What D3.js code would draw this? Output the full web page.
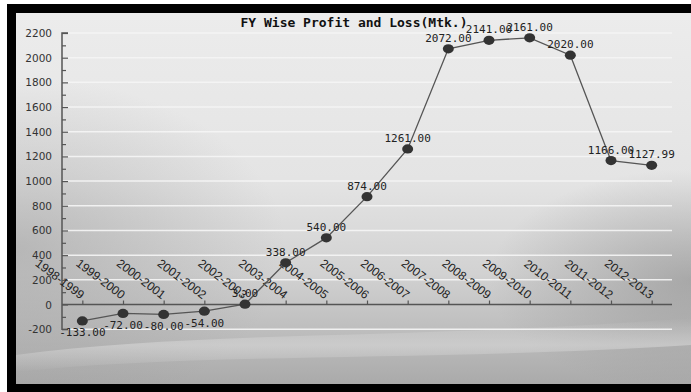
<!DOCTYPE html>
<html>
<head>
<meta charset="utf-8">
<script src="https://cdn.jsdelivr.net/npm/d3@7"></script>
<style>
  html, body { margin: 0; padding: 0; background: #fff; }
  svg { display: block; }
</style>
</head>
<body>
<svg id="chart" width="691" height="392"></svg>
<script>
const title = "FY Wise Profit and Loss(Mtk.)";
const categories = ["1998-1999","1999-2000","2000-2001","2001-2002","2002-2003","2003-2004","2004-2005","2005-2006","2006-2007","2007-2008","2008-2009","2009-2010","2010-2011","2011-2012","2012-2013"];
const values = [-133, -72, -80, -54, 3, 338, 540, 874, 1261, 2072, 2141, 2161, 2020, 1166, 1127.99];
const yTicks = [-200, 0, 200, 400, 600, 800, 1000, 1200, 1400, 1600, 1800, 2000, 2200];
const yMinorTicks = [-100, 100, 300, 500, 700, 900, 1100, 1300, 1500, 1700, 1900, 2100];

const svg = d3.select("#chart");
const W = 691, H = 392;

// ----- background & frame -----
const defs = svg.append("defs");
const vg = defs.append("linearGradient").attr("id","bgV").attr("x1",0).attr("y1",0).attr("x2",0).attr("y2",1);
[[0,"#ececec"],[0.45,"#e4e4e4"],[0.7,"#d2d2d2"],[0.82,"#c2c2c2"],[0.9,"#b8b8b8"],[1,"#aaaaaa"]].forEach(s=>vg.append("stop").attr("offset",s[0]).attr("stop-color",s[1]));
const lg = defs.append("radialGradient").attr("id","bgL").attr("cx",0.0).attr("cy",0.55).attr("r",0.4).attr("gradientTransform","scale(1,1.15)");
lg.append("stop").attr("offset",0).attr("stop-color","#909090").attr("stop-opacity",0.45);
lg.append("stop").attr("offset",1).attr("stop-color","#909090").attr("stop-opacity",0);
const rg = defs.append("radialGradient").attr("id","bgR").attr("cx",1.0).attr("cy",0.72).attr("r",0.3);
rg.append("stop").attr("offset",0).attr("stop-color","#888").attr("stop-opacity",0.55);
rg.append("stop").attr("offset",1).attr("stop-color","#888").attr("stop-opacity",0);
const sw = defs.append("linearGradient").attr("id","swoosh").attr("x1",0).attr("y1",0).attr("x2",0).attr("y2",1);
sw.append("stop").attr("offset",0).attr("stop-color","#dadada").attr("stop-opacity",0);
sw.append("stop").attr("offset",0.5).attr("stop-color","#dadada").attr("stop-opacity",0.55);
sw.append("stop").attr("offset",1).attr("stop-color","#dadada").attr("stop-opacity",0);

svg.append("rect").attr("x",7).attr("y",4).attr("width",W-7).attr("height",H-4).attr("fill","#000");
const px0 = 16, py0 = 13, pw = W - 16, ph = 384 - 13;
svg.append("rect").attr("x",px0).attr("y",py0).attr("width",pw).attr("height",ph).attr("fill","url(#bgV)");
svg.append("rect").attr("x",px0).attr("y",py0).attr("width",pw).attr("height",ph).attr("fill","url(#bgL)");
svg.append("rect").attr("x",px0).attr("y",py0).attr("width",pw).attr("height",ph).attr("fill","url(#bgR)");
svg.append("path").attr("d","M16,355 C200,330 420,340 691,318 L691,345 C420,362 200,352 16,372 Z").attr("fill","url(#swoosh)");

// ----- scales -----
const left = 62, right = 672;
const x = d3.scalePoint().domain(categories).range([left, right]).padding(0.5);
const y = d3.scaleLinear().domain([-200, 2200]).range([329.2, 33]);

// grid lines
svg.append("g").selectAll("line").data(yTicks.filter(v => v !== 0)).join("line")
  .attr("x1", left).attr("x2", right)
  .attr("y1", d => y(d)).attr("y2", d => y(d))
  .attr("stroke", "#f6f6f6").attr("stroke-width", 1.5).attr("opacity", 0.9);

// y axis (ticks pointing inward)
const yAxis = d3.axisRight(y).tickValues(yTicks).tickSize(6).tickFormat("");
const gy = svg.append("g").attr("transform", `translate(${left},0)`).call(yAxis);
gy.select(".domain").attr("stroke", "#555").attr("stroke-width", 1.5).attr("d", `M6,${y(2200)}H0V${y(-200)}H6`);
gy.selectAll(".tick line").attr("stroke", "#555").attr("stroke-width", 1.2);
svg.append("g").attr("transform", `translate(${left},0)`)
  .call(d3.axisRight(y).tickValues(yMinorTicks).tickSize(4).tickFormat(""))
  .call(g => g.select(".domain").remove())
  .selectAll(".tick line").attr("stroke", "#555").attr("stroke-width", 1.2);
svg.append("g").selectAll("text").data(yTicks).join("text")
  .attr("x", 52).attr("y", d => y(d) + 4)
  .attr("text-anchor", "end")
  .attr("font-family", "DejaVu Sans, Verdana, sans-serif").attr("font-size", "10.5px")
  .attr("fill", "#333").text(d => d);

// x axis at zero, ticks pointing up
const gx = svg.append("g").attr("transform", `translate(0,${y(0)})`)
  .call(d3.axisTop(x).tickSize(4).tickSizeOuter(0).tickFormat(""));
gx.select(".domain").attr("stroke", "#555").attr("stroke-width", 1.5).attr("d", `M${left},0H${right}`);
gx.selectAll(".tick line").attr("stroke", "#555").attr("stroke-width", 1.2);

// rotated category labels
svg.append("g").selectAll("text").data(categories).join("text")
  .attr("transform", d => `translate(${x(d) - 2},${y(0) - 5}) rotate(37)`)
  .attr("text-anchor", "end")
  .attr("font-family", "Liberation Sans, Arial, sans-serif").attr("font-size", "12px")
  .attr("fill", "#222").text(d => d);

// line
const data = categories.map((c, i) => ({c, v: values[i]}));
svg.append("path").datum(data)
  .attr("d", d3.line().x(d => x(d.c)).y(d => y(d.v)))
  .attr("fill", "none").attr("stroke", "#555").attr("stroke-width", 1.3);

// points
svg.append("g").selectAll("ellipse").data(data).join("ellipse")
  .attr("cx", d => x(d.c)).attr("cy", d => y(d.v))
  .attr("rx", 5.5).attr("ry", 4.6)
  .attr("fill", "#333");

// value labels
svg.append("g").selectAll("text").data(data).join("text")
  .attr("x", d => x(d.c))
  .attr("y", d => d.v < 0 ? y(d.v) + 15.5 : y(d.v) - 7)
  .attr("text-anchor", "middle")
  .attr("font-family", "DejaVu Sans Mono, monospace").attr("font-size", "11px")
  .attr("fill", "#222").text(d => d.v.toFixed(2));

// title
svg.append("text").attr("x", 354).attr("y", 26.5).attr("text-anchor", "middle")
  .attr("font-family", "DejaVu Sans Mono, monospace").attr("font-weight", "bold").attr("font-size", "13px")
  .attr("fill", "#111").text(title);
</script>
</body>
</html>
